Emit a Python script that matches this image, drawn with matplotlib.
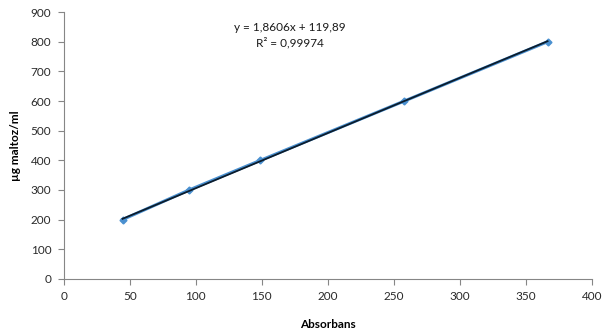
import numpy as np
import matplotlib.pyplot as plt

plt.rcParams['font.family'] = ['Lato', 'DejaVu Sans']

# standard curve data
absorbans = [44.5, 95, 149, 258, 366.5]
maltoz = [200, 300, 400, 600, 800]

# trendline from the equation shown on the chart
slope = 1.8606
intercept = 119.89
eq_text = 'y = 1,8606x + 119,89\nR² = 0,99974'

xticks = np.arange(0, 401, 50)
yticks = np.arange(0, 901, 100)

fig = plt.figure(figsize=(6.02, 3.36), dpi=100)
ax = fig.add_axes([0.106, 0.170, 0.877, 0.794])

ax.plot(absorbans, maltoz, color='#4a90d0', lw=2.2, marker='D', ms=3.5,
        mec='#4a90d0', mfc='#4a90d0', zorder=2)

xt = np.array([absorbans[0], absorbans[-1]])
ax.plot(xt, slope * xt + intercept, color='#0b1c2c', lw=1.3, zorder=3)

ax.text(171, 822, eq_text, ha='center', va='center', fontsize=8.5,
        linespacing=1.3, color='#1a1a1a')

ax.set_xlim(0, 400)
ax.set_ylim(0, 900)
ax.set_xticks(xticks)
ax.set_yticks(yticks)
for s in ['top', 'right']:
    ax.spines[s].set_visible(False)
for s in ['left', 'bottom']:
    ax.spines[s].set_color('#868686')
    ax.spines[s].set_linewidth(0.8)
ax.tick_params(direction='out', length=4, width=0.8, color='#868686',
               labelsize=8.5, labelcolor='#2a2a2a', pad=5)

ax.set_xlabel('Absorbans', fontsize=8.5, fontweight='bold', labelpad=12)
ax.set_ylabel('µg maltoz/ml', fontsize=8.5, fontweight='bold', labelpad=7)

fig.savefig('out.png', dpi=100)
